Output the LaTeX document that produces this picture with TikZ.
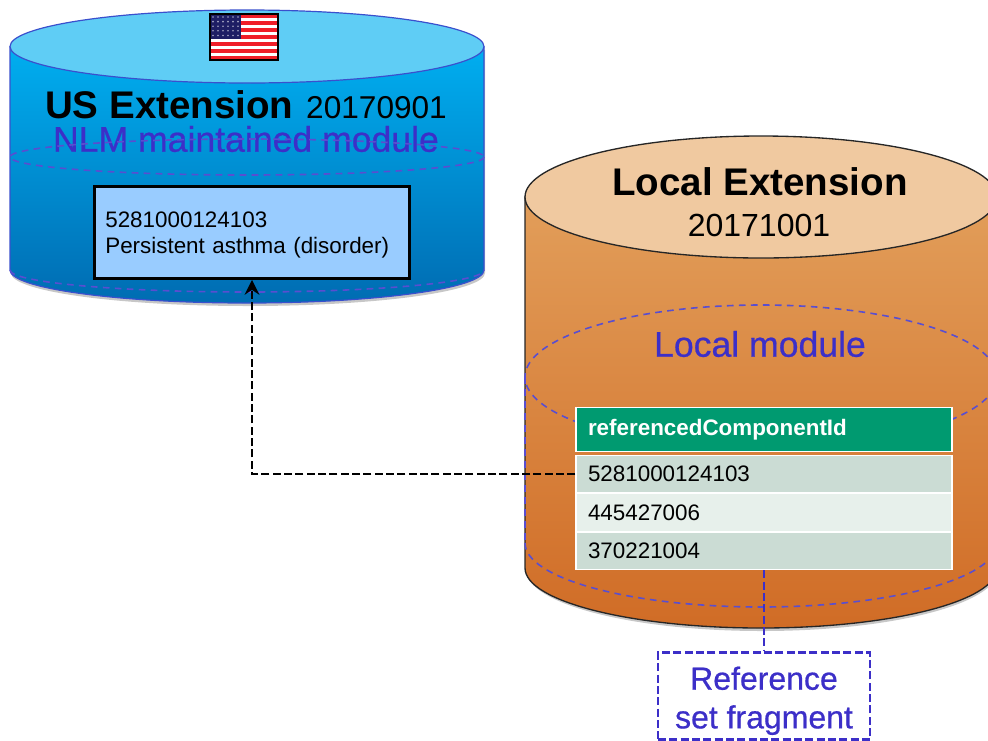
\documentclass[tikz,border=0pt]{standalone}
\usepackage{fontspec}
\setmainfont{Liberation Sans}
\newfontfamily\modfont[FakeBold=0.6]{Liberation Sans}
\usepackage{xcolor}
\definecolor{usside}{RGB}{0,174,240}
\definecolor{usbase}{RGB}{0,108,178}
\definecolor{ustop}{RGB}{95,205,245}
\definecolor{localside}{RGB}{226,158,90}
\definecolor{localmid}{RGB}{223,152,82}
\definecolor{localbase}{RGB}{208,108,38}
\definecolor{localtop}{RGB}{240,201,160}
\definecolor{modblue}{RGB}{60,47,200}
\definecolor{rimblue}{RGB}{58,80,205}
\definecolor{headgreen}{RGB}{0,154,112}
\definecolor{rowdark}{RGB}{203,220,212}
\definecolor{rowlight}{RGB}{231,240,235}
\definecolor{boxblue}{RGB}{153,204,255}
\definecolor{flagblue}{RGB}{30,30,100}
\definecolor{flagred}{RGB}{240,30,40}
\usetikzlibrary{arrows.meta}

\begin{document}
\begin{tikzpicture}[x=0.75pt,y=0.75pt,yscale=-1,xscale=1,
  moddash/.style={draw=modblue!85!white,line width=1.2pt,dash pattern=on 5pt off 4pt},
  heading/.style={inner sep=0.75pt,font=\fontsize{28.9}{32}\selectfont},
  modlabel/.style={inner sep=0.75pt,text=modblue,font=\modfont\fontsize{26.7}{32}\selectfont},
  idbox/.style={draw=black,line width=2.2pt,fill=boxblue,minimum width=236pt,minimum height=69pt,text width=220pt,align=left,font=\fontsize{16.8}{19.5}\selectfont},
  tablecell/.style={draw=white,line width=0.9pt,minimum width=282pt,text width=264pt,inner xsep=9pt,inner ysep=0pt,align=left,font=\fontsize{16.8}{19.5}\selectfont},
  fragbox/.style={draw=modblue,fill=white,line width=2pt,dash pattern=on 6pt off 2.5pt,minimum width=159pt,minimum height=65pt,inner sep=0pt,align=center,text=modblue,font=\modfont\fontsize{24}{29}\selectfont}
]

\clip (0,0) rectangle (988,740);

\fill [black!22] (526,200) -- (526,570) arc [start angle=180,end angle=0,x radius=236,y radius=61] -- (998,200) -- cycle ;
\fill [black!22] (11,50) -- (11,273) arc [start angle=180,end angle=0,x radius=237,y radius=33] -- (485,50) -- cycle ;

\draw [draw=rimblue,line width=0.9pt,top color=usside,bottom color=usbase] (10,47) -- (10,270) arc [start angle=180,end angle=0,x radius=237,y radius=33] -- (484,47) -- cycle ;
\draw [draw=rimblue,line width=0.9pt,fill=ustop] (247,46.5) ellipse [x radius=237,y radius=36.5] ;
\draw [moddash] (10,270) arc [start angle=180,end angle=0,x radius=237,y radius=22] ;

\draw [draw=black!85,line width=1pt,top color=localside,middle color=localmid,bottom color=localbase] (525,197) -- (525,568) arc [start angle=180,end angle=0,x radius=236,y radius=60] -- (997,197) -- cycle ;
\draw [draw=black!85,line width=1pt,fill=localtop] (761,197) ellipse [x radius=236,y radius=61] ;
\draw [moddash] (761,377) ellipse [x radius=236,y radius=72] ;
\draw [moddash] (525,543) arc [start angle=180,end angle=0,x radius=236,y radius=64] ;
\draw [moddash] (525,377) -- (525,543) ;
\draw [moddash] (997,377) -- (997,543) ;

\fill [white] (210,14) rectangle (278,60) ;
\foreach \row in {0,2,...,12} {
  \fill [flagred] (210,14+3.54*\row) rectangle (278,14+3.54*\row+3.54) ;
}
\fill [flagblue] (210,14) rectangle (241,39) ;
\foreach \col in {0,...,5} {
  \foreach \row in {0,...,4} {
    \fill [white!60!flagblue] (213+5*\col,17+4.6*\row) circle [radius=0.9] ;
  }
}
\draw [black,line width=0.9pt] (210,14) rectangle (278,60) ;

\node (usname) [heading] at (246,105) {\textbf{US Extension}\hspace{1.5pt} {\fontsize{23.7}{32}\selectfont 20170901}};
\node (nlmmod) [modlabel] at (246,139) {NLM maintained module};
\draw [moddash] (247,157) ellipse [x radius=237,y radius=18] ;
\node (asthma) [idbox] at (252,232.5) {\rule{0pt}{16pt}5281000124103\\Persistent asthma (disorder)};

\node (localname) [heading] at (760,182) {\textbf{Local Extension}};
\node (localdate) [heading,font=\fontsize{24}{32}\selectfont] at (759,225) {20171001};
\node (localmod) [modlabel] at (760,344) {Local module};

\node (tablehead) [tablecell,fill=headgreen,text=white,minimum height=33pt,font=\fontsize{16.8}{19.5}\selectfont\bfseries] at (764,429.5) {referencedComponentId};
\node (rowa) [tablecell,fill=rowdark,minimum height=28pt] at (764,474) {5281000124103};
\node (rowb) [tablecell,fill=rowlight,minimum height=28pt] at (764,512.5) {445427006};
\node (rowc) [tablecell,fill=rowdark,minimum height=28pt] at (764,551) {370221004};

\node (fragment) [fragbox] at (764,696) {\rule{0pt}{24.5pt}Reference\\set fragment};

\draw [black,line width=2pt,dash pattern=on 6pt off 2.5pt,-{Stealth[length=11pt,width=11pt]}] (rowa.west) -| (asthma.south) ;
\draw [draw=modblue,line width=2pt,dash pattern=on 6pt off 2.5pt] (rowc.south) -- (fragment.north) ;

\end{tikzpicture}
\end{document}
